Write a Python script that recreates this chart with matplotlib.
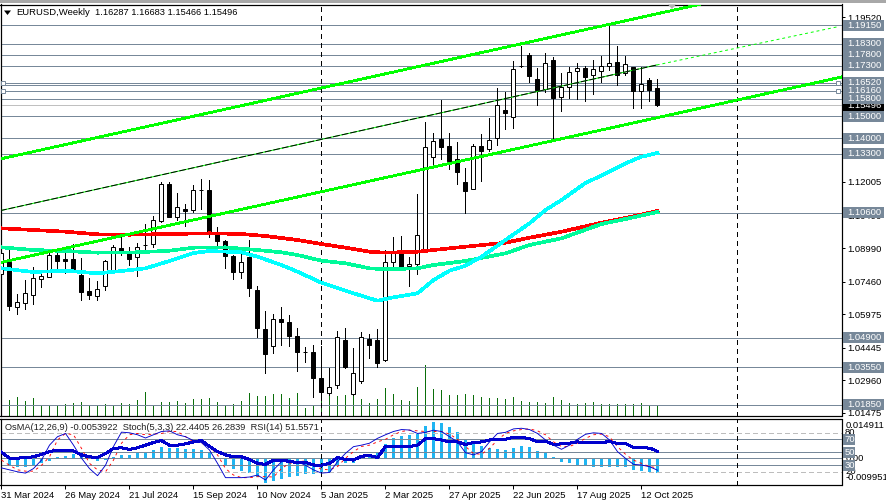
import matplotlib
matplotlib.use('Agg')
import matplotlib.pyplot as plt
from matplotlib.patches import Rectangle, Polygon

plt.rcParams['font.family'] = ['Liberation Sans', 'DejaVu Sans']
FS = 6.8
PX = 0.6  # one pixel wide line when not antialiased

# ---- weekly candles, one entry per bar
opens = [1.07804, 1.08352, 1.06312, 1.06495, 1.06860, 1.07590, 1.07681, 1.08671, 1.08475, 1.08488,
         1.07758, 1.07029, 1.06814, 1.07270, 1.08000, 1.08977, 1.08748, 1.08566, 1.09127, 1.09159,
         1.10236, 1.11910, 1.10418, 1.10756, 1.10724, 1.11636, 1.11636, 1.09675, 1.09310, 1.08625,
         1.07909, 1.08593, 1.07074, 1.05281, 1.04533, 1.05751, 1.05614, 1.04976, 1.04259, 1.04246,
         1.03060, 1.02389, 1.02727, 1.04793, 1.02316, 1.02909, 1.04825, 1.04793, 1.03867, 1.08365,
         1.08748, 1.08155, 1.08247, 1.08821, 1.13155, 1.13963, 1.13643, 1.13037, 1.12001, 1.11695,
         1.13643, 1.13493, 1.13995, 1.15286, 1.14953, 1.17293, 1.17795, 1.16686, 1.16230, 1.17567,
         1.15892, 1.16321, 1.17079, 1.17202, 1.16896, 1.17079, 1.17307, 1.17462, 1.16987, 1.17234,
         1.16166, 1.16641, 1.16287]
highs = [1.08808, 1.08899, 1.06892, 1.07530, 1.08137, 1.07987, 1.08808, 1.08899, 1.09050, 1.09159,
         1.08534, 1.07622, 1.07485, 1.08443, 1.09127, 1.09506, 1.09050, 1.09232, 1.10085, 1.10450,
         1.12001, 1.11987, 1.11499, 1.10998, 1.11864, 1.12138, 1.12092, 1.09948, 1.09355, 1.08671,
         1.08899, 1.09355, 1.07257, 1.06116, 1.05979, 1.06299, 1.05934, 1.05341, 1.04488, 1.04565,
         1.04519, 1.03530, 1.05204, 1.05341, 1.04415, 1.05144, 1.05053, 1.05281, 1.08899, 1.09506,
         1.09538, 1.08566, 1.11454, 1.14725, 1.14223, 1.15742, 1.14223, 1.13812, 1.12626, 1.13735,
         1.14177, 1.14935, 1.16276, 1.16121, 1.17521, 1.18219, 1.17873, 1.17188, 1.17900, 1.17717,
         1.16960, 1.17261, 1.17416, 1.17293, 1.17567, 1.17749, 1.19118, 1.18205, 1.17749, 1.17261,
         1.17261, 1.16732, 1.16683]
lows = [1.07211, 1.06162, 1.05979, 1.06207, 1.06436, 1.07211, 1.07667, 1.07987, 1.07863, 1.07987,
        1.06618, 1.06677, 1.06618, 1.07074, 1.07987, 1.08671, 1.08215, 1.07713, 1.08821, 1.09050,
        1.10190, 1.10404, 1.10268, 1.09994, 1.10646, 1.10769, 1.09492, 1.09050, 1.08078, 1.07576,
        1.07635, 1.06800, 1.04944, 1.03301, 1.04214, 1.04565, 1.04533, 1.03393, 1.03803, 1.02207,
        1.02056, 1.02284, 1.02617, 1.03516, 1.02284, 1.02818, 1.03986, 1.03575, 1.03835, 1.08078,
        1.08078, 1.07270, 1.07804, 1.08808, 1.12626, 1.13050, 1.12594, 1.11910, 1.10573, 1.11682,
        1.12060, 1.13415, 1.13689, 1.14419, 1.14451, 1.17270, 1.16577, 1.15514, 1.16121, 1.13995,
        1.15254, 1.15819, 1.15788, 1.15710, 1.16016, 1.16577, 1.17111, 1.16426, 1.16869, 1.15391,
        1.15391, 1.15710, 1.15466]
closes = [1.08762, 1.06344, 1.06540, 1.06937, 1.07622, 1.07713, 1.08671, 1.08397, 1.08411, 1.08019,
          1.06997, 1.06846, 1.07106, 1.08383, 1.09022, 1.08794, 1.08488, 1.09050, 1.09120, 1.10254,
          1.11910, 1.10418, 1.10847, 1.10692, 1.11636, 1.11640, 1.09661, 1.09323, 1.08639, 1.07909,
          1.08338, 1.07179, 1.05354, 1.04168, 1.05737, 1.05628, 1.04976, 1.04259, 1.04255, 1.03074,
          1.02434, 1.02663, 1.04916, 1.03575, 1.03274, 1.04916, 1.04579, 1.03730, 1.08338, 1.08776,
          1.08137, 1.08247, 1.09570, 1.13584, 1.13885, 1.13612, 1.12959, 1.12471, 1.11604, 1.13643,
          1.13429, 1.13904, 1.15500, 1.15163, 1.17143, 1.17293, 1.16851, 1.16198, 1.17416, 1.15847,
          1.16321, 1.17006, 1.17188, 1.16791, 1.17143, 1.17307, 1.17416, 1.16896, 1.17371, 1.16153,
          1.16472, 1.16212, 1.15496]
volume = [39, 49, 58, 46, 55, 34, 31, 34, 36, 39, 43, 34, 34, 36, 34, 39, 37, 49, 73, 34,
          43, 43, 46, 40, 52, 52, 55, 43, 34, 36, 46, 70, 61, 61, 67, 67, 55, 70, 25, 34,
          64, 69, 61, 64, 69, 52, 40, 52, 85, 67, 49, 46, 88, 154, 82, 79, 64, 64, 67, 64,
          58, 55, 55, 52, 58, 46, 43, 43, 40, 58, 49, 40, 36, 40, 43, 36, 36, 36, 36, 36,
          40, 31, 31]

# ---- moving averages, read at a handful of bars
cyan_idx = [0, 4, 8, 12, 15, 18, 21, 24, 26, 30, 32, 35, 37, 40, 43, 46, 47, 49, 52, 54, 56, 58, 60, 63, 66, 68, 70, 73, 76, 78, 80, 82]
cyan_ma = [1.08064, 1.07895, 1.07955, 1.07836, 1.07941, 1.08064, 1.08397, 1.08762, 1.08853, 1.08794, 1.08593, 1.08215,
           1.07909, 1.07407, 1.07042, 1.06695, 1.06586, 1.06741, 1.06924, 1.07530, 1.07955, 1.08183, 1.08593, 1.09355,
           1.10117, 1.10724, 1.11180, 1.11956, 1.12471, 1.12854, 1.13155, 1.13324]
teal_idx = [0, 4, 8, 12, 17, 21, 24, 28, 32, 35, 37, 40, 43, 46, 48, 52, 54, 58, 63, 66, 70, 75, 78, 82]
teal_ma = [1.09022, 1.08899, 1.08853, 1.08776, 1.08794, 1.08867, 1.09004, 1.09022, 1.08899, 1.08794, 1.08671, 1.08411,
           1.08292, 1.08064, 1.08019, 1.08064, 1.08215, 1.08397, 1.08748, 1.09127, 1.09433, 1.10085, 1.10313, 1.10633]
red_idx = [0, 4, 8, 12, 16, 21, 26, 30, 33, 37, 40, 43, 46, 48, 52, 54, 58, 63, 66, 70, 75, 78, 82]
red_ma = [1.09889, 1.09811, 1.09734, 1.09615, 1.09597, 1.09629, 1.09661, 1.09629, 1.09538, 1.09355, 1.09173, 1.09004,
          1.08821, 1.08776, 1.08821, 1.08899, 1.09050, 1.09232, 1.09460, 1.09734, 1.10144, 1.10359, 1.10678]

# ---- trend channel
upper_x = [-0.19, 87.2]
upper_y = [1.13050, 1.20099]
lower_x = [-0.19, 105]
lower_y = [1.08324, 1.16790]
mid_x = [-0.19, 81.9]
mid_y = [1.10692, 1.17339]
mid_ext_x = [81.9, 104.56]
mid_ext_y = [1.17339, 1.19086]

# ---- horizontal levels and price labels
levels = [1.1915, 1.1830, 1.1780, 1.1730, 1.1652, 1.1616, 1.1580, 1.1500, 1.1400, 1.1330, 1.1060, 1.0490, 1.0355, 1.0185]
level_labels = ['1.19150', '1.18300', '1.17800', '1.17300', '1.16520', '1.16160', '1.15800', '1.15000',
                '1.14000', '1.13300', '1.10600', '1.04900', '1.03550', '1.01850']
extra_level = 1.1641
anchored_levels = [1.1652, 1.1616]
last_price = 1.15496
price_ticks = [1.19520, 1.18035, 1.16505, 1.14970, 1.13400, 1.12005, 1.10490, 1.08990, 1.07460, 1.05975, 1.04445, 1.02960, 1.01475]
separators = [40, 92]

# ---- lower window
date_ticks = list(range(0, 83, 8))
date_labels = ['31 Mar 2024', '26 May 2024', '21 Jul 2024', '15 Sep 2024', '10 Nov 2024', '5 Jan 2025',
               '2 Mar 2025', '27 Apr 2025', '22 Jun 2025', '17 Aug 2025', '12 Oct 2025']
osma = [-0.0004, -0.0027, -0.0031, -0.0031, -0.0025, -0.0019, -0.0009, 0.0005, 0.0009, 0.0016,
        0.0012, 0.0006, -0.0010, -0.0006, 0.0006, 0.0012, 0.0012, 0.0019, 0.0022, 0.0031,
        0.0042, 0.0039, 0.0037, 0.0035, 0.0034, 0.0031, 0.0019, -0.0004, -0.0027, -0.0040,
        -0.0046, -0.0056, -0.0069, -0.0091, -0.0083, -0.0077, -0.0069, -0.0066, -0.0059, -0.0059,
        -0.0051, -0.0050, -0.0025, -0.0019, -0.0016, 0.0012, 0.0017, 0.0022, 0.0054, 0.0076,
        0.0085, 0.0087, 0.0093, 0.0121, 0.0136, 0.0131, 0.0116, 0.0097, 0.0071, 0.0062,
        0.0046, 0.0040, 0.0035, 0.0031, 0.0039, 0.0046, 0.0041, 0.0027, 0.0021, 0.0005,
        -0.0014, -0.0019, -0.0026, -0.0026, -0.0032, -0.0032, -0.0032, -0.0032, -0.0032, -0.0044,
        -0.0047, -0.0050, -0.0053922]
rsi = [50, 41, 41, 42, 43, 47, 51, 53.5, 53.5, 52, 46, 43, 42, 48, 56, 57, 54.5, 57, 61, 65,
       68, 61, 61, 63, 66, 68, 59, 51, 46, 43, 43, 39, 33, 31.5, 38, 38, 36, 34, 34.5, 30.5,
       30, 33, 42, 39, 38, 44, 45, 42, 59, 59, 59, 59, 61, 71, 71, 69, 66, 66, 62, 65,
       66, 69, 69, 70, 73, 73, 71, 66, 67, 62, 63, 64, 66, 65, 65, 65, 66.5, 63.5, 63.5, 57.6,
       57, 56.5, 51.56]
stoch_main = [26, 23, 20, 18, 25, 38, 61, 74, 79, 61, 41, 25, 14, 30, 59, 81, 80, 77, 72, 77,
              82, 83, 77, 74, 68, 65, 53.5, 33, 11, 11, 11, 12, 15, 7.4, 23, 35.5, 37, 35.5, 30, 23,
              18, 19, 35.5, 48.4, 58.7, 61, 64, 71.5, 77, 82, 85, 84.3, 79, 80.7, 84, 82, 74, 66, 49.4, 46,
              51, 66, 79, 80.7, 86, 87, 85, 79, 69, 61, 54.6, 61, 70, 77.7, 80, 79, 69, 51, 40.7, 31.5,
              30.4, 27.9, 22.44]
stoch_sig = [38, 30, 23, 21, 21, 30, 43, 69, 79, 77, 56, 33, 23, 20, 38, 64, 77, 79, 77, 78,
             79, 82, 82, 74, 66, 64, 59, 46, 25, 15, 11, 11, 12.5, 12.5, 12, 25, 33, 35.5, 36.6, 30,
             24, 23, 28, 41, 51, 59, 61, 66, 70, 77, 82, 84, 83, 82, 82, 82, 78, 70, 59, 48,
             47, 56, 69, 79, 83, 85, 86, 83, 77, 66, 59, 59, 64, 71.5, 77, 78, 74, 58.6, 47, 38,
             33, 28, 26.28]
box_levels = [70, 50, 30]
dash_levels = [80, 20]

SLATE = '#778899'
W, H = 886, 500
XL = (-0.125, 105)
bars = list(range(len(opens)))

fig = plt.figure(figsize=(W / 100, H / 100), dpi=100, facecolor='white')
fig.add_artist(Rectangle((0, 1 - 2.5 / H), 1, 2.5 / H, transform=fig.transFigure, facecolor='#a8a8a8', edgecolor='none'))


def axes_px(left, top, right, bottom):
    return fig.add_axes([left / W, 1 - bottom / H, (right - left) / W, (bottom - top) / H])


def style_frame(a):
    for s in a.spines.values():
        s.set_linewidth(0.8)
        s.set_color('black')


# ---- main window (volume sits on its own axes underneath)
axv = axes_px(0.5, 4.5, 841.5, 416)
axv.set_xlim(XL)
axv.set_ylim(0, 1234.5)
axv.vlines(bars, 0, volume, color='#0a6e0a', lw=PX, antialiased=False)
axv.set_xticks([])
axv.set_yticks([])
style_frame(axv)

ax = axes_px(0.5, 4.5, 841.5, 416)
ax.patch.set_visible(False)
ax.set_xlim(XL)
ax.set_ylim(1.01326, 1.20099)
style_frame(ax)

for lv in levels + [extra_level]:
    ax.axhline(lv, color=SLATE, lw=PX, zorder=1.5, antialiased=False)
ax.axhline(last_price, color='#c0c0c0', lw=PX, zorder=1.4, antialiased=False)
for sep in separators:
    ax.axvline(sep, color='black', lw=PX, ls=(0, (5, 5)), zorder=1.6, antialiased=False)

ax.vlines(bars, lows, highs, color='black', lw=PX, zorder=3, antialiased=False)
for i, (o, c) in enumerate(zip(opens, closes)):
    up = c >= o
    ax.bar(i, abs(c - o), bottom=min(o, c), width=0.5, facecolor='white' if up else 'black',
           edgecolor='black', linewidth=0.72, zorder=3.1)

ax.plot(red_idx, red_ma, color='#ff0000', lw=1.9, zorder=4, antialiased=False)
ax.plot(teal_idx, teal_ma, color='#00fa9a', lw=1.9, zorder=4.1, antialiased=False)
ax.plot(cyan_idx, cyan_ma, color='#00ffff', lw=1.9, zorder=4.2, antialiased=False)

ax.plot(upper_x, upper_y, color='#00ff00', lw=1.3, zorder=4.5, antialiased=False)
ax.plot(lower_x, lower_y, color='#00ff00', lw=1.3, zorder=4.5, antialiased=False)
ax.plot(mid_x, mid_y, color='#00ff00', lw=0.7, zorder=4.5)
ax.plot(mid_x, mid_y, color='black', lw=0.7, ls=(0, (7, 2)), zorder=4.6)
ax.plot(mid_ext_x, mid_ext_y, color='#00ff00', lw=0.7, ls=(0, (3, 3)), zorder=4.5)

# little anchor squares of the two selected levels
ax.plot([0.2] * 2, anchored_levels, ls='none', marker='s', ms=3.4, mfc='white', mec=SLATE, mew=0.7, zorder=5)
ax.plot([104.6] * 2, anchored_levels, ls='none', marker='s', ms=3.4, mfc='white', mec=SLATE, mew=0.7, zorder=5)

ax.xaxis.set_visible(False)
ax.yaxis.tick_right()
ax.set_yticks(price_ticks)
ax.set_yticklabels(['%.5f' % p for p in price_ticks], fontsize=FS)
ax.tick_params(axis='y', length=2.4, width=0.72, pad=1.6, colors='black')

# boxed price labels, later ones cover earlier ones
trans = ax.get_yaxis_transform()
box_h = 11 / (411.5 / (1.20099 - 1.01326))
x0 = (843 - 0.5) / 841
bw = 41 / 841
tx = (847 - 0.5) / 841
ax.add_patch(Rectangle((x0, last_price - box_h / 2), bw, box_h, transform=trans, facecolor='black',
                       edgecolor='none', clip_on=False, zorder=6))
ax.text(tx, last_price, '%.5f' % last_price, transform=trans, color='white', fontsize=FS,
        va='center', ha='left', zorder=6.1, clip_on=False)
for n, (lv, lab) in enumerate(zip(levels, level_labels)):
    z = 7 + n * 0.1
    ax.add_patch(Rectangle((x0, lv - box_h / 2), bw, box_h, transform=trans, facecolor=SLATE,
                           edgecolor='none', clip_on=False, zorder=z))
    ax.text(tx, lv, lab, transform=trans, color='white', fontsize=FS, va='center', ha='left',
            zorder=z + 0.05, clip_on=False)

# ---- indicator window
axo = axes_px(0.5, 418.5, 841.5, 485)
axo.set_xlim(XL)
axo.set_ylim(-0.009951, 0.014911)
axo.bar(bars, osma, width=0.42, color='#1fb5f2', linewidth=0)
axo.set_xticks([])
axo.set_yticks([])
style_frame(axo)

ax2 = axes_px(0.5, 418.5, 841.5, 485)
ax2.patch.set_visible(False)
ax2.set_xlim(XL)
ax2.set_ylim(-0.3, 102)
style_frame(ax2)
for lv in box_levels:
    ax2.axhline(lv, color=SLATE, lw=PX, zorder=1.5, antialiased=False)
for lv in dash_levels:
    ax2.axhline(lv, color='#bdbdbd', lw=PX, ls=(0, (5, 4)), zorder=1.4, antialiased=False)
axo.axhline(0, color=SLATE, lw=PX, zorder=3, antialiased=False)
for sep in separators:
    ax2.axvline(sep, color='black', lw=PX, ls=(0, (5, 5)), zorder=1.6, antialiased=False)

ax2.plot(bars, stoch_sig, color='#ff0000', lw=0.65, ls=(0, (3, 4)), zorder=3)
ax2.plot(bars, stoch_main, color='#0000cd', lw=0.65, zorder=3.1)
ax2.plot(bars, rsi, color='#0000cd', lw=1.45, zorder=3.2, antialiased=False)

ax2.set_xticks(date_ticks)
ax2.set_xticklabels(date_labels, fontsize=FS, ha='left')
ax2.tick_params(axis='x', length=2.9, width=0.72, pad=1.5, colors='black')
ax2.yaxis.tick_right()
ax2.set_yticks([])

trans2 = ax2.get_yaxis_transform()
for lv in dash_levels:
    ax2.text(x0 + 2 / 841, lv, str(lv), transform=trans2, fontsize=FS, va='center', ha='left', clip_on=False, zorder=5)
ax2.text(x0 + 3 / 841, 41.1, '0.00', transform=trans2, fontsize=FS, va='center', ha='left', clip_on=False, zorder=5)
ax2.text(x0 + 3 / 841, 92, '0.014911', transform=trans2, fontsize=FS, va='center', ha='left', clip_on=False, zorder=5)
ax2.text(x0 + 3 / 841, 10.6, '-0.009951', transform=trans2, fontsize=FS, va='center', ha='left', clip_on=False, zorder=5)
box_h2 = 11 / 0.65
for lv in box_levels:
    ax2.add_patch(Rectangle((x0, lv - box_h2 / 2), 12 / 841, box_h2, transform=trans2, facecolor=SLATE,
                            edgecolor='none', clip_on=False, zorder=6))
    ax2.text(x0 + 1.5 / 841, lv, str(lv), transform=trans2, color='white', fontsize=FS, va='center', ha='left',
             clip_on=False, zorder=6.1)

# ---- captions
fig.add_artist(Polygon([[4 / W, 1 - 10.5 / H], [11 / W, 1 - 10.5 / H], [7.5 / W, 1 - 15 / H]],
                       transform=fig.transFigure, facecolor='black', edgecolor='none'))
fig.add_artist(Polygon([[668 / W, 1 - 4.5 / H], [676 / W, 1 - 4.5 / H], [672 / W, 1 - 9 / H]],
                       transform=fig.transFigure, facecolor='#b0b0b0', edgecolor='none'))
fig.text(16 / W, 1 - 12.5 / H, 'EURUSD,Weekly', fontsize=FS, va='center', ha='left')
fig.text(95 / W, 1 - 12.5 / H, '1.16287 1.16683 1.15466 1.15496', fontsize=6.65, va='center', ha='left')
fig.text(5 / W, 1 - 427.5 / H, 'OsMA(12,26,9) -0.0053922  Stoch(5,3,3) 22.4405 26.2839  RSI(14) 51.5571',
         fontsize=6.7, va='center', ha='left', color='#202020')

fig.savefig('out.png', dpi=100, facecolor='white')
